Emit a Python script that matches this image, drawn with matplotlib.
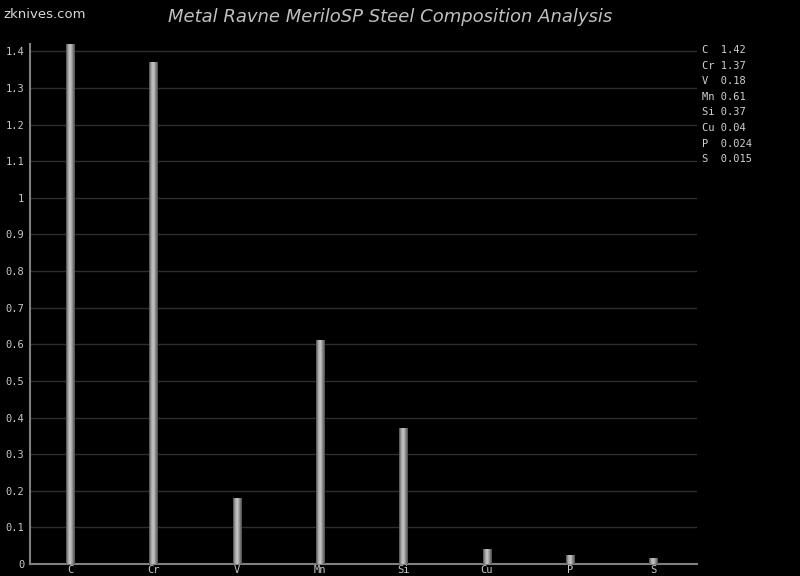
import numpy as np
import matplotlib
matplotlib.use('Agg')
import matplotlib.pyplot as plt
from matplotlib.colors import LinearSegmentedColormap

# Datos de composición del acero
elementos = ['C', 'Cr', 'V', 'Mn', 'Si', 'Cu', 'P', 'S']
valores = [1.42, 1.37, 0.18, 0.61, 0.37, 0.04, 0.024, 0.015]
etiquetas_valor = ['1.42', '1.37', '0.18', '0.61', '0.37', '0.04', '0.024', '0.015']
ticks_y = [0, 0.1, 0.2, 0.3, 0.4, 0.5, 0.6, 0.7, 0.8, 0.9, 1, 1.1, 1.2, 1.3, 1.4]

fig = plt.figure(figsize=(8, 5.76), dpi=100, facecolor='black')
ax = fig.add_axes([30/800, 12/576, 667/800, 520/576])
ax.set_facecolor('black')

x = np.arange(len(elementos)) + 0.5
ancho = 0.1

# Barras con degradado tipo cilindro
cmap = LinearSegmentedColormap.from_list('cil', ['#4a4a4a', '#a8a8a8', '#c8c8c8', '#8a8a8a', '#4a4a4a'])
grad = np.linspace(0, 1, 64).reshape(1, -1)
for xi, v in zip(x, valores):
    ax.imshow(grad, cmap=cmap, aspect='auto', extent=(xi - ancho/2, xi + ancho/2, 0, v),
              zorder=3, interpolation='bilinear')

ax.set_xlim(0.02, 8.02)
ax.set_ylim(0, 1.42)

# Rejilla horizontal
for t in ticks_y[1:]:
    ax.axhline(t, color='#2e2e2e', lw=1, zorder=1)

ax.set_xticks(x)
ax.set_xticklabels(elementos)
ax.set_yticks(ticks_y)
ax.set_yticklabels([f'{t:g}' for t in ticks_y])
ax.tick_params(colors='#c8c8c8', labelsize=7.5, length=0, pad=4)
for lab in ax.get_xticklabels() + ax.get_yticklabels():
    lab.set_family('DejaVu Sans Mono')
ax.tick_params(axis='x', pad=1)

for s in ['top', 'right']:
    ax.spines[s].set_visible(False)
for s in ['left', 'bottom']:
    ax.spines[s].set_color('#808080')
    ax.spines[s].set_linewidth(1.5)

# Leyenda de valores a la derecha
for i, (e, v) in enumerate(zip(elementos, etiquetas_valor)):
    fig.text(702/800, 1 - (50 + i*15.6)/576, f'{e:<2} {v}', color='#d0d0d0',
             family='DejaVu Sans Mono', fontsize=7.5, va='center', ha='left')

fig.text(390/800, 1 - 17/576, 'Metal Ravne MeriloSP Steel Composition Analysis', color='#c0c0c0',
         fontsize=13, style='italic', ha='center', va='center')
fig.text(3/800, 1 - 15/576, 'zknives.com', color='#d8d8d8', fontsize=9.5, ha='left', va='center')

fig.savefig('out.png', dpi=100, facecolor='black')
